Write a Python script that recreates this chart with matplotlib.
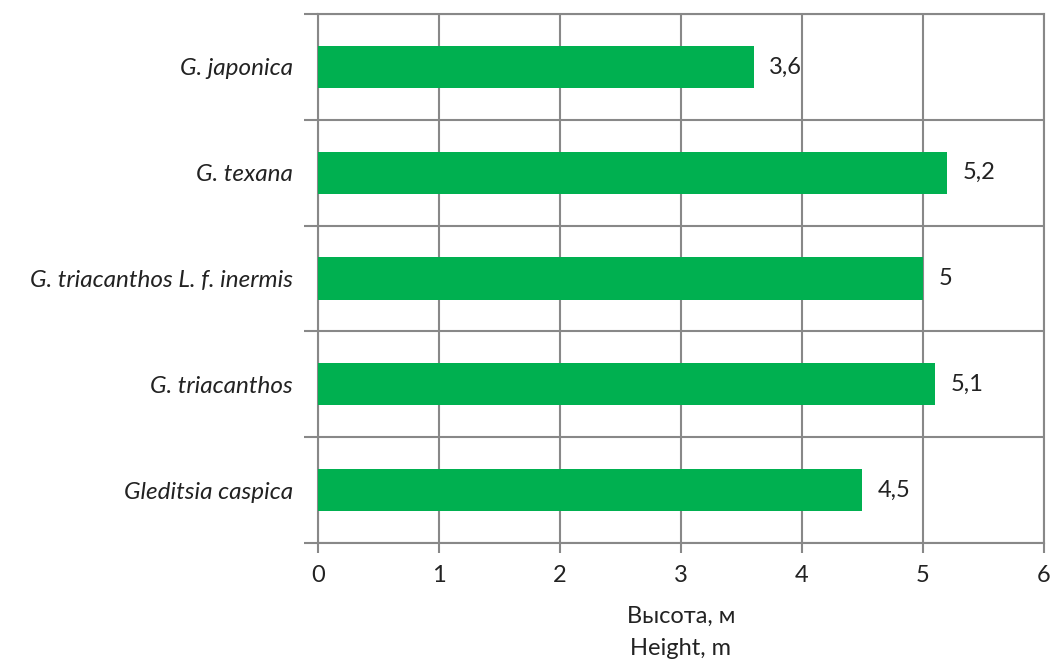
import matplotlib.pyplot as plt
import numpy as np

plt.rcParams['font.family'] = ['Lato', 'DejaVu Sans']

species = ['Gleditsia caspica', 'G. triacanthos', 'G. triacanthos L. f. inermis',
           'G. texana', 'G. japonica']
heights = [4.5, 5.1, 5.0, 5.2, 3.6]
value_labels = ['4,5', '5,1', '5', '5,2', '3,6']

fig = plt.figure(figsize=(10.54, 6.6), dpi=100)
ax = fig.add_axes([0.3017, 0.1773, 0.6888, 0.8015])

y = np.arange(len(species))
ax.barh(y, heights, height=0.4, color='#00B050', zorder=3)

for yi, h, lab in zip(y, heights, value_labels):
    ax.text(h + 0.13, yi, lab, va='center', ha='left', fontsize=17, color='#222222')

ax.set_xlim(0, 6)
ax.set_ylim(-0.5, len(species) - 0.5)
ax.set_xticks(range(7))
ax.set_xticklabels([str(i) for i in range(7)], fontsize=17, color='#222222')
ax.set_yticks(y)
ax.set_yticklabels(species, fontsize=17.5, style='italic', color='#222222')
ax.set_yticks(np.arange(-0.5, len(species), 1), minor=True)

ax.tick_params(axis='y', which='major', length=0, pad=18)
ax.tick_params(axis='y', which='minor', length=10, width=1.5, color='#888888')
ax.tick_params(axis='x', which='major', length=7, width=1.5, color='#888888', pad=9)

ax.grid(axis='x', which='major', color='#888888', linewidth=1.5, zorder=0)
ax.grid(axis='y', which='minor', color='#888888', linewidth=1.5, zorder=0)
for s in ax.spines.values():
    s.set_color('#888888')
    s.set_linewidth(1.5)

ax.set_xlabel('Высота, м\nHeight, m', fontsize=17, color='#222222', labelpad=14,
              linespacing=1.65)

plt.savefig('out.png', dpi=100)
